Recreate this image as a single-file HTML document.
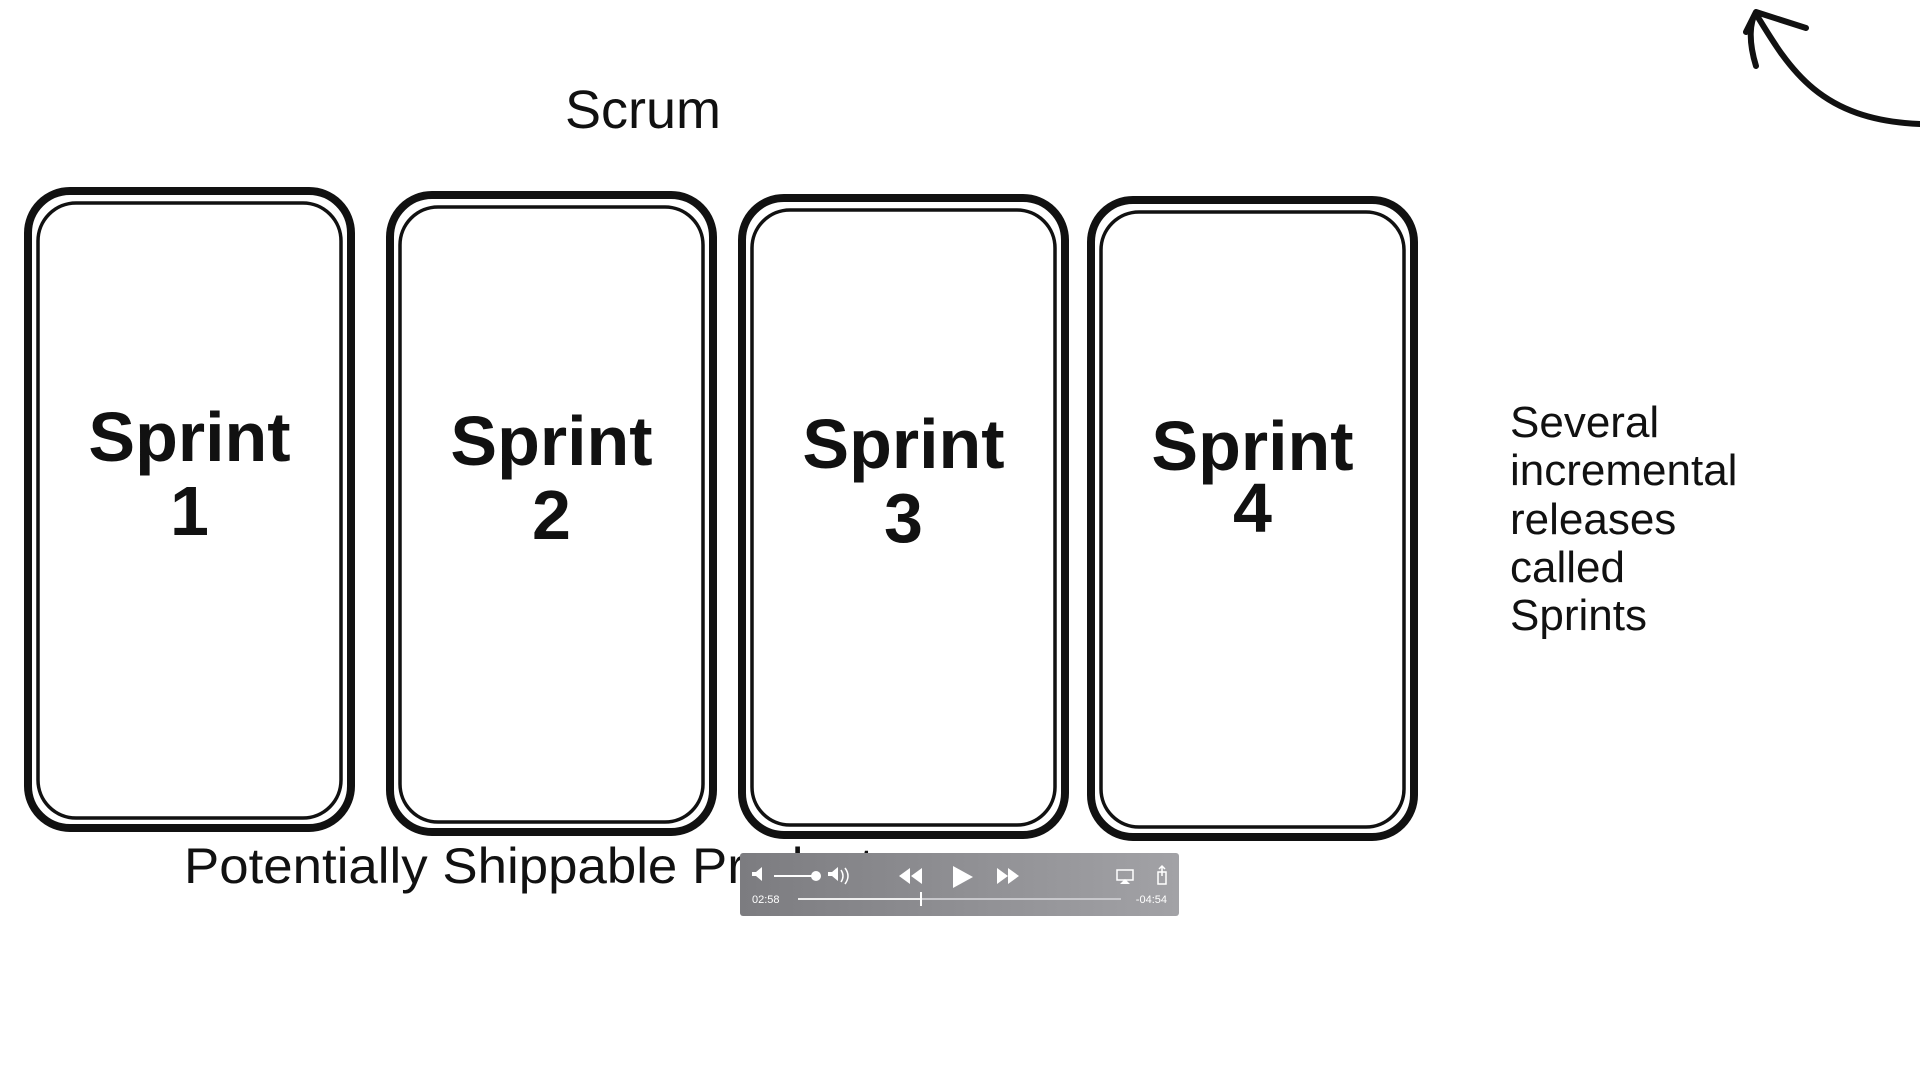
<!DOCTYPE html>
<html><head><meta charset="utf-8"><style>
html,body{margin:0;padding:0;background:#fff;width:1920px;height:1080px;overflow:hidden}
svg{display:block}
text{font-family:"Liberation Sans",sans-serif;fill:#111}
</style></head><body>
<svg width="1920" height="1080" viewBox="0 0 1920 1080">
<text x="643" y="128" font-size="54" text-anchor="middle">Scrum</text>
<g id="cards"></g>
<g font-size="44">
<text x="1510" y="437">Several</text>
<text x="1510" y="485">incremental</text>
<text x="1510" y="534">releases</text>
<text x="1510" y="582">called</text>
<text x="1510" y="630">Sprints</text>
</g>
<text x="184" y="883" font-size="50" textLength="690" lengthAdjust="spacingAndGlyphs">Potentially Shippable Product</text>
<path d="M1756 66 C1748 40 1750 22 1756 12 M1756 12 L1746 32 M1756 12 L1806 28 M1756 14 C1790 70 1820 120 1920 124" fill="none" stroke="#111" stroke-width="6" stroke-linecap="round"/>
<g>
<defs><linearGradient id="g" x1="0" x2="1"><stop offset="0" stop-color="#7c7c80"/><stop offset="1" stop-color="#a2a2a6"/></linearGradient></defs>
<rect x="740" y="853" width="439" height="63" rx="3" fill="url(#g)"/>
<path d="M752 872h4l6-5v14l-6-5h-4z" fill="#fff"/>
<line x1="774" y1="876" x2="816" y2="876" stroke="#fff" stroke-width="2"/>
<circle cx="816" cy="876" r="5" fill="#fff"/>
<path d="M828 872h4l6-5v14l-6-5h-4z" fill="#fff"/>
<path d="M841 870q4 6 0 12M845 868q6 8 0 16" fill="none" stroke="#fff" stroke-width="1.5"/>
<path d="M911 876l11-8v16zM899 876l11-8v16z" fill="#fff"/>
<path d="M953 866l20 11-20 11z" fill="#fff"/>
<path d="M997 868l11 8-11 8zM1008 868l11 8-11 8z" fill="#fff"/>
<path d="M1117 870h16v10h-16z" fill="none" stroke="#fff" stroke-width="1.5"/>
<path d="M1120 884l5-5 5 5z" fill="#fff"/>
<path d="M1158 872h8v12h-8z M1162 866v10 M1159 869l3-3 3 3" fill="none" stroke="#fff" stroke-width="1.5"/>
<text x="752" y="903" font-size="11" style="fill:#fff">02:58</text>
<rect x="798" y="898" width="323" height="2" fill="#c8c8cc"/>
<rect x="798" y="898" width="123" height="2" fill="#eee"/>
<rect x="920" y="892" width="2" height="14" fill="#fff"/>
<text x="1167" y="903" font-size="11" text-anchor="end" style="fill:#fff">-04:54</text>
</g>
</svg>
<script>
const sprintLabels=["1","2","3","4"];
const cardX=[24,386,738,1087];
const cardY=[187,191,194,196];
const g=document.getElementById('cards');
const NS="http://www.w3.org/2000/svg";
sprintLabels.forEach((lab,i)=>{
 const x=cardX[i],y=cardY[i],w=331,h=645;
 const grp=document.createElementNS(NS,'g');
 
 
 const o=document.createElementNS(NS,'rect');
 o.setAttribute('x',x+4);o.setAttribute('y',y+4);o.setAttribute('width',w-8);o.setAttribute('height',h-8);
 o.setAttribute('rx',42);o.setAttribute('fill','none');o.setAttribute('stroke','#111');o.setAttribute('stroke-width',8);
 grp.appendChild(o);
 const n=document.createElementNS(NS,'rect');
 n.setAttribute('x',x+14);n.setAttribute('y',y+16);n.setAttribute('width',w-28);n.setAttribute('height',h-30);
 n.setAttribute('rx',38);n.setAttribute('fill','none');n.setAttribute('stroke','#111');n.setAttribute('stroke-width',3.5);
 grp.appendChild(n);
 const t=document.createElementNS(NS,'text');
 t.setAttribute('x',x+w/2);t.setAttribute('y',y+274);t.setAttribute('text-anchor','middle');t.setAttribute('font-size',70);t.setAttribute('font-weight','bold');
 t.textContent='Sprint';grp.appendChild(t);
 const t2=document.createElementNS(NS,'text');
 t2.setAttribute('x',x+w/2);t2.setAttribute('y',y+348-(i==3?12:0));t2.setAttribute('text-anchor','middle');t2.setAttribute('font-size',70);t2.setAttribute('font-weight','bold');
 t2.textContent=lab;grp.appendChild(t2);
 g.appendChild(grp);
});
</script>
</body></html>
